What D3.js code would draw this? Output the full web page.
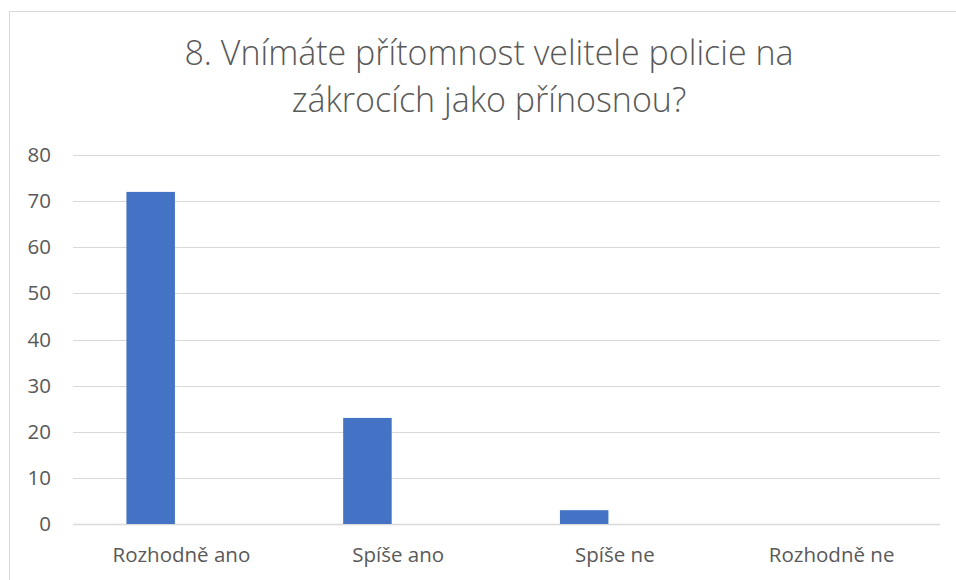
<!DOCTYPE html>
<html>
<head>
<meta charset="utf-8">
<script src="https://cdn.jsdelivr.net/npm/d3@7"></script>
<style>
  body { margin: 0; background: #fff; }
  svg { display: block; }
</style>
</head>
<body>
<svg width="956" height="580"></svg>
<script>
// data
const titleLines = ["8. Vnímáte přítomnost velitele policie na", "zákrocích jako přínosnou?"];
const categories = ["Rozhodně ano", "Spíše ano", "Spíše ne", "Rozhodně ne"];
const series = ["Odpovědi", "Prázdná řada"];   // 2nd series is empty in the source
const values = [72, 23, 3, 0];
const yTicks = [0, 10, 20, 30, 40, 50, 60, 70, 80];

const W = 956, H = 580;
const margin = { top: 155, right: 16, bottom: 56, left: 73 };
const font = "'Open Sans', sans-serif";
const textColor = '#595959';

const svg = d3.select('svg');

// chart area border
svg.append('rect')
  .attr('x', 9.5)
  .attr('y', 11.5)
  .attr('width', 980)
  .attr('height', 600)
  .attr('fill', 'white')
  .attr('stroke', '#d9d9d9')
  .attr('stroke-width', 1);

// title
svg.append('text')
  .attr('x', 489)
  .attr('y', 65)
  .attr('text-anchor', 'middle')
  .attr('fill', textColor)
  .style('font-family', font)
  .style('font-weight', 300)
  .style('font-size', '34px')
  .selectAll('tspan')
  .data(titleLines)
  .join('tspan')
    .attr('x', 489)
    .attr('dy', (d, i) => i === 0 ? 0 : 47)
    .text(d => d);

const x0 = d3.scaleBand()
  .domain(categories)
  .range([margin.left, W - margin.right]);

const x1 = d3.scaleBand()
  .domain(series)
  .range([0, x0.bandwidth()])
  .paddingInner(0.21)
  .paddingOuter(0.87);

const y = d3.scaleLinear()
  .domain([0, 80])
  .range([H - margin.bottom, margin.top]);

// gridlines
const g = svg.append('g');
g.selectAll('line.grid')
  .data(yTicks)
  .join('line')
    .attr('class', 'grid')
    .attr('x1', margin.left)
    .attr('x2', W - margin.right)
    .attr('y1', d => Math.round(y(d)) + 0.5)
    .attr('y2', d => Math.round(y(d)) + 0.5)
    .attr('stroke', '#d9d9d9')
    .attr('stroke-width', d => d === 0 ? 1.5 : 1.2);

// y axis labels
const yAxis = svg.append('g')
  .attr('transform', `translate(${margin.left - 22},0)`)
  .call(d3.axisLeft(y).tickValues(yTicks).tickSize(0).tickPadding(0));
yAxis.select('.domain').remove();
yAxis.selectAll('text')
  .attr('fill', textColor)
  .style('font-family', font)
  .style('font-size', '20.5px');

// x axis labels
const xAxis = svg.append('g')
  .attr('transform', `translate(0,${H - margin.bottom})`)
  .call(d3.axisBottom(x0).tickSize(0).tickPadding(23));
xAxis.select('.domain').remove();
xAxis.selectAll('text')
  .attr('fill', textColor)
  .style('font-family', font)
  .style('font-size', '20.5px');

// bars
g.selectAll('rect.bar')
  .data(values)
  .join('rect')
    .attr('class', 'bar')
    .attr('x', (d, i) => x0(categories[i]) + x1(series[0]))
    .attr('width', x1.bandwidth())
    .attr('y', d => y(d))
    .attr('height', d => y(0) - y(d))
    .attr('fill', '#4472c4');
</script>
</body>
</html>
